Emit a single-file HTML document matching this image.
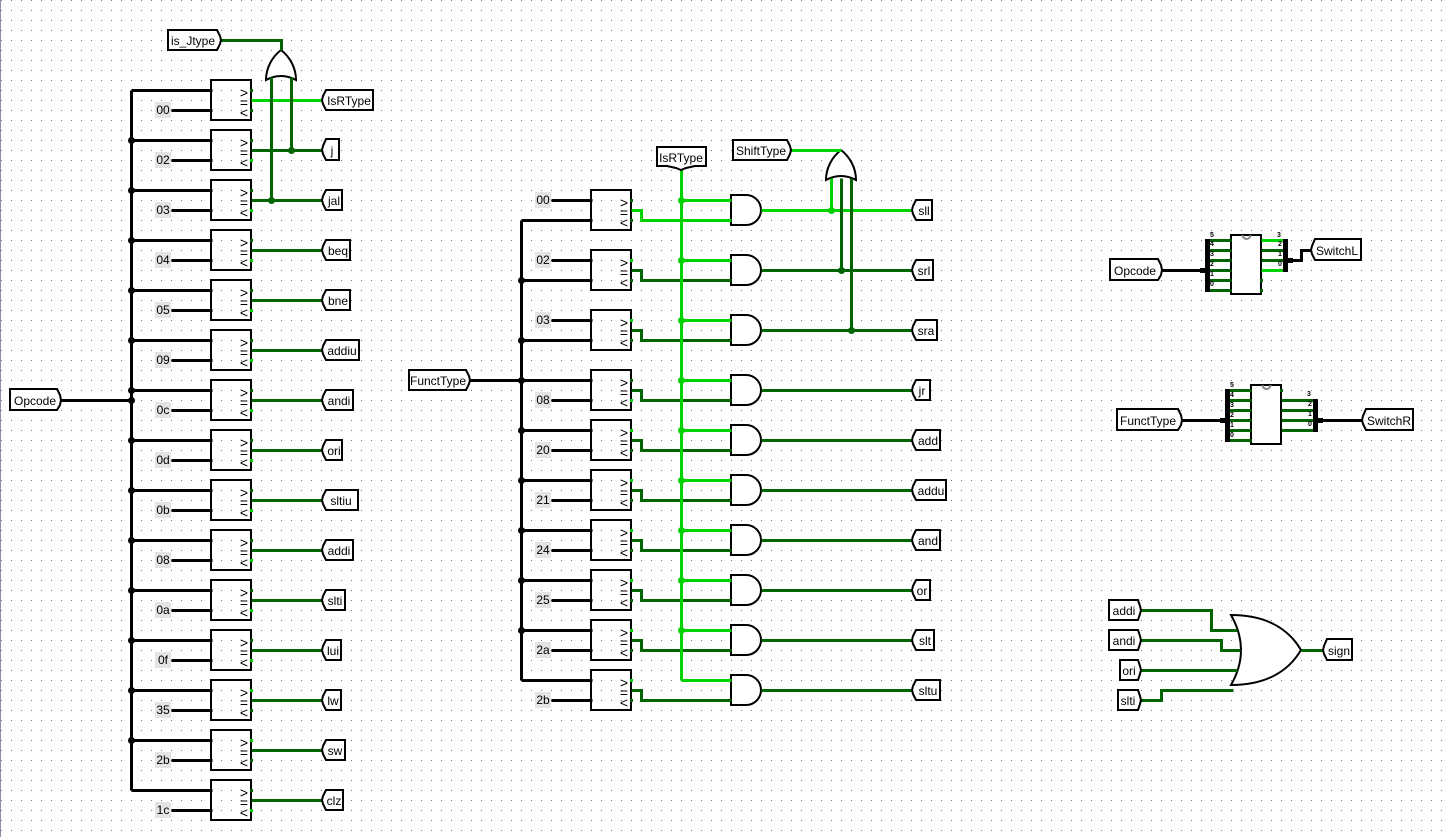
<!DOCTYPE html>
<html><head><meta charset="utf-8"><style>
html,body{margin:0;padding:0;background:#fff}
svg{display:block}
text{font-family:"Liberation Sans",sans-serif;font-size:12px;fill:#000;text-anchor:middle}
.m text{font-size:14px}
.s text{font-size:7px;font-weight:bold}
.w path{fill:none;stroke-width:3}
.k{stroke:#000}.d{stroke:#006400}.b{stroke:#00d200}
.l{fill:#fff;stroke:#000;stroke-width:2}
.g{fill:#fff;stroke:#000;stroke-width:2}
.c{fill:#e4e4e4}
</style></head><body>
<svg width="1451" height="837" viewBox="0 0 1451 837" xmlns="http://www.w3.org/2000/svg">
<defs><pattern id="p" width="10" height="10" patternUnits="userSpaceOnUse"><rect x="1" y="0" width="1" height="1" fill="#777"/></pattern></defs>
<rect width="1451" height="837" fill="#fff"/>
<rect width="1451" height="837" fill="url(#p)"/>
<rect width="1" height="837" fill="#8a94a6"/>

<!-- comparator boxes -->
<path fill="none" stroke="#000" stroke-width="2" d="M211 80h40v40h-40zM211 130h40v40h-40zM211 180h40v40h-40zM211 230h40v40h-40zM211 280h40v40h-40zM211 330h40v40h-40zM211 380h40v40h-40zM211 430h40v40h-40zM211 480h40v40h-40zM211 530h40v40h-40zM211 580h40v40h-40zM211 630h40v40h-40zM211 680h40v40h-40zM211 730h40v40h-40zM211 780h40v40h-40zM591 190h40v40h-40zM591 250h40v40h-40zM591 310h40v40h-40zM591 370h40v40h-40zM591 420h40v40h-40zM591 470h40v40h-40zM591 520h40v40h-40zM591 570h40v40h-40zM591 620h40v40h-40zM591 670h40v40h-40z"/>

<!-- comparator symbols -->
<g class="m" transform="translate(0 .7)">
<text x="244" y="97">&gt;</text><text x="244" y="107">=</text><text x="244" y="117">&lt;</text>
<text x="244" y="147">&gt;</text><text x="244" y="157">=</text><text x="244" y="167">&lt;</text>
<text x="244" y="197">&gt;</text><text x="244" y="207">=</text><text x="244" y="217">&lt;</text>
<text x="244" y="247">&gt;</text><text x="244" y="257">=</text><text x="244" y="267">&lt;</text>
<text x="244" y="297">&gt;</text><text x="244" y="307">=</text><text x="244" y="317">&lt;</text>
<text x="244" y="347">&gt;</text><text x="244" y="357">=</text><text x="244" y="367">&lt;</text>
<text x="244" y="397">&gt;</text><text x="244" y="407">=</text><text x="244" y="417">&lt;</text>
<text x="244" y="447">&gt;</text><text x="244" y="457">=</text><text x="244" y="467">&lt;</text>
<text x="244" y="497">&gt;</text><text x="244" y="507">=</text><text x="244" y="517">&lt;</text>
<text x="244" y="547">&gt;</text><text x="244" y="557">=</text><text x="244" y="567">&lt;</text>
<text x="244" y="597">&gt;</text><text x="244" y="607">=</text><text x="244" y="617">&lt;</text>
<text x="244" y="647">&gt;</text><text x="244" y="657">=</text><text x="244" y="667">&lt;</text>
<text x="244" y="697">&gt;</text><text x="244" y="707">=</text><text x="244" y="717">&lt;</text>
<text x="244" y="747">&gt;</text><text x="244" y="757">=</text><text x="244" y="767">&lt;</text>
<text x="244" y="797">&gt;</text><text x="244" y="807">=</text><text x="244" y="817">&lt;</text>
<text x="624" y="207">&gt;</text><text x="624" y="217">=</text><text x="624" y="227">&lt;</text>
<text x="624" y="267">&gt;</text><text x="624" y="277">=</text><text x="624" y="287">&lt;</text>
<text x="624" y="327">&gt;</text><text x="624" y="337">=</text><text x="624" y="347">&lt;</text>
<text x="624" y="387">&gt;</text><text x="624" y="397">=</text><text x="624" y="407">&lt;</text>
<text x="624" y="437">&gt;</text><text x="624" y="447">=</text><text x="624" y="457">&lt;</text>
<text x="624" y="487">&gt;</text><text x="624" y="497">=</text><text x="624" y="507">&lt;</text>
<text x="624" y="537">&gt;</text><text x="624" y="547">=</text><text x="624" y="557">&lt;</text>
<text x="624" y="587">&gt;</text><text x="624" y="597">=</text><text x="624" y="607">&lt;</text>
<text x="624" y="637">&gt;</text><text x="624" y="647">=</text><text x="624" y="657">&lt;</text>
<text x="624" y="687">&gt;</text><text x="624" y="697">=</text><text x="624" y="707">&lt;</text>
</g>

<!-- constants -->
<path class="c" d="M155 102h16v16h-16zM155 152h16v16h-16zM155 202h16v16h-16zM155 252h16v16h-16zM155 302h16v16h-16zM155 352h16v16h-16zM155 402h16v16h-16zM155 452h16v16h-16zM155 502h16v16h-16zM155 552h16v16h-16zM155 602h16v16h-16zM155 652h16v16h-16zM155 702h16v16h-16zM155 752h16v16h-16zM155 802h16v16h-16zM535 192h16v16h-16zM535 252h16v16h-16zM535 312h16v16h-16zM535 392h16v16h-16zM535 442h16v16h-16zM535 492h16v16h-16zM535 542h16v16h-16zM535 592h16v16h-16zM535 642h16v16h-16zM535 692h16v16h-16z"/>
<g>
<text x="163" y="114">00</text><text x="163" y="164">02</text><text x="163" y="214">03</text><text x="163" y="264">04</text><text x="163" y="314">05</text><text x="163" y="364">09</text><text x="163" y="414">0c</text><text x="163" y="464">0d</text><text x="163" y="514">0b</text><text x="163" y="564">08</text><text x="163" y="614">0a</text><text x="163" y="664">0f</text><text x="163" y="714">35</text><text x="163" y="764">2b</text><text x="163" y="814">1c</text>
<text x="543" y="204">00</text><text x="543" y="264">02</text><text x="543" y="324">03</text><text x="543" y="404">08</text><text x="543" y="454">20</text><text x="543" y="504">21</text><text x="543" y="554">24</text><text x="543" y="604">25</text><text x="543" y="654">2a</text><text x="543" y="704">2b</text>
</g>

<!-- gates -->
<path class="g" d="M281 50C272 57 266 68 266 80Q281 72 296 80C296 68 290 57 281 50Z"/>
<path class="g" d="M841 150C832 157 826 168 826 180Q841 172 856 180C856 168 850 157 841 150Z"/>
<path class="g" d="M731 195H746A15 15 0 0 1 746 225H731ZM731 255H746A15 15 0 0 1 746 285H731ZM731 315H746A15 15 0 0 1 746 345H731ZM731 375H746A15 15 0 0 1 746 405H731ZM731 425H746A15 15 0 0 1 746 455H731ZM731 475H746A15 15 0 0 1 746 505H731ZM731 525H746A15 15 0 0 1 746 555H731ZM731 575H746A15 15 0 0 1 746 605H731ZM731 625H746A15 15 0 0 1 746 655H731ZM731 675H746A15 15 0 0 1 746 705H731Z"/>
<path class="g" d="M1231 615C1265 615 1288 628 1301 650C1288 672 1265 685 1231 685Q1251 650 1231 615Z"/>

<!-- splitter boxes -->
<rect x="1231" y="235" width="30" height="59" class="g"/>
<rect x="1251" y="385" width="30" height="59" class="g"/>
<path d="M1242.5 235a4 4 0 0 0 8 0M1262.5 385a4 4 0 0 0 8 0" fill="none" stroke="#888" stroke-width="2"/>

<!-- wires -->
<g class="w" transform="translate(.5 .5)">
<path class="k" d="M61 400H131M131 90V790M131 90H212M131 140H212M131 190H212M131 240H212M131 290H212M131 340H212M131 390H212M131 440H212M131 490H212M131 540H212M131 590H212M131 640H212M131 690H212M131 740H212M131 790H212M171 110H212M171 160H212M171 210H212M171 260H212M171 310H212M171 360H212M171 410H212M171 460H212M171 510H212M171 560H212M171 610H212M171 660H212M171 710H212M171 760H212M171 810H212"/>
<path class="k" d="M470 380H521M521 220V680M521 220H592M521 280H592M521 340H592M521 380H592M521 430H592M521 480H592M521 530H592M521 580H592M521 630H592M521 680H592M551 200H592M551 260H592M551 320H592M551 400H592M551 450H592M551 500H592M551 550H592M551 600H592M551 650H592M551 700H592"/>
<path class="k" d="M1161 270H1201M1182 420H1221M1287 260H1301V250H1311M1317 420H1361"/>
<path class="b" d="M251 100H322"/>
<path class="d" d="M251 150H322M251 200H322M251 250H322M251 300H322M251 350H322M251 400H322M251 450H322M251 500H322M251 550H322M251 600H322M251 650H322M251 700H322M251 750H322M251 800H322"/>
<path class="d" d="M221 40H281V50M271 77V200M291 77V150"/>
<path class="b" d="M631 210H641V220H731M761 210H913M791 150H841M681 200H731M681 260H731M681 320H731M681 380H731M681 430H731M681 480H731M681 530H731M681 580H731M681 630H731M681 680H731"/>
<path class="d" d="M631 270H641V280H731M631 330H641V340H731M631 390H641V400H731M631 440H641V450H731M631 490H641V500H731M631 540H641V550H731M631 590H641V600H731M631 640H641V650H731M631 690H641V700H731M761 270H913M761 330H913M761 390H913M761 440H913M761 490H913M761 540H913M761 590H913M761 640H913M761 690H913"/>
<path class="b" d="M681 170V680M831 178V210"/>
<path class="d" d="M841 178V270M851 178V330"/>
<path class="d" d="M1141 610H1211V630H1237M1141 640H1221V650H1240M1141 670H1237M1141 700H1161V690H1233M1301 650H1323"/>
<path class="d" d="M1209 240H1231M1209 250H1231M1209 260H1231M1209 270H1231M1209 280H1231M1209 290H1231M1261 250H1283M1261 260H1283M1229 390H1251M1229 400H1251M1229 410H1251M1229 420H1251M1229 430H1251M1229 440H1251M1281 400H1313M1281 410H1313M1281 420H1313M1281 430H1313"/>
<path class="b" d="M1261 240H1283M1261 270H1283"/>
</g>

<!-- junctions -->
<g transform="translate(.5 .5)">
<g fill="#000"><circle cx="131" cy="140" r="3.5"/><circle cx="131" cy="190" r="3.5"/><circle cx="131" cy="240" r="3.5"/><circle cx="131" cy="290" r="3.5"/><circle cx="131" cy="340" r="3.5"/><circle cx="131" cy="390" r="3.5"/><circle cx="131" cy="400" r="3.5"/><circle cx="131" cy="440" r="3.5"/><circle cx="131" cy="490" r="3.5"/><circle cx="131" cy="540" r="3.5"/><circle cx="131" cy="590" r="3.5"/><circle cx="131" cy="640" r="3.5"/><circle cx="131" cy="690" r="3.5"/><circle cx="131" cy="740" r="3.5"/>
<circle cx="521" cy="280" r="3.5"/><circle cx="521" cy="340" r="3.5"/><circle cx="521" cy="380" r="3.5"/><circle cx="521" cy="430" r="3.5"/><circle cx="521" cy="480" r="3.5"/><circle cx="521" cy="530" r="3.5"/><circle cx="521" cy="580" r="3.5"/><circle cx="521" cy="630" r="3.5"/></g>
<g fill="#006400"><circle cx="291" cy="150" r="3.5"/><circle cx="271" cy="200" r="3.5"/><circle cx="841" cy="270" r="3.5"/><circle cx="851" cy="330" r="3.5"/></g>
<g fill="#00d200"><circle cx="681" cy="200" r="3.5"/><circle cx="681" cy="260" r="3.5"/><circle cx="681" cy="320" r="3.5"/><circle cx="681" cy="380" r="3.5"/><circle cx="681" cy="430" r="3.5"/><circle cx="681" cy="480" r="3.5"/><circle cx="681" cy="530" r="3.5"/><circle cx="681" cy="580" r="3.5"/><circle cx="681" cy="630" r="3.5"/><circle cx="831" cy="210" r="3.5"/></g>
</g>

<!-- comparator pins -->
<path fill="#006400" d="M250 89h3v3h-3zM250 109h3v3h-3zM250 139h3v3h-3zM250 189h3v3h-3zM250 239h3v3h-3zM250 289h3v3h-3zM250 339h3v3h-3zM250 389h3v3h-3zM250 439h3v3h-3zM250 489h3v3h-3zM250 539h3v3h-3zM250 589h3v3h-3zM250 639h3v3h-3zM250 709h3v3h-3zM250 759h3v3h-3zM250 789h3v3h-3zM630 199h3v3h-3zM630 219h3v3h-3zM630 279h3v3h-3zM630 339h3v3h-3zM630 379h3v3h-3zM630 449h3v3h-3zM630 499h3v3h-3zM630 549h3v3h-3zM630 599h3v3h-3zM630 649h3v3h-3zM630 699h3v3h-3zM1260 279h3v3h-3zM1260 289h3v3h-3zM1280 389h3v3h-3z"/>
<path fill="#00d200" d="M250 159h3v3h-3zM250 209h3v3h-3zM250 259h3v3h-3zM250 309h3v3h-3zM250 359h3v3h-3zM250 409h3v3h-3zM250 459h3v3h-3zM250 509h3v3h-3zM250 559h3v3h-3zM250 609h3v3h-3zM250 659h3v3h-3zM250 689h3v3h-3zM250 739h3v3h-3zM250 809h3v3h-3zM630 259h3v3h-3zM630 319h3v3h-3zM630 399h3v3h-3zM630 429h3v3h-3zM630 479h3v3h-3zM630 529h3v3h-3zM630 579h3v3h-3zM630 629h3v3h-3zM630 679h3v3h-3z"/>

<!-- splitter bars -->
<path fill="#000" d="M1205 239h5v53h-5zM1200 268h6v5h-6zM1283 239h5v33h-5zM1287 258h6v5h-6zM1225 389h5v53h-5zM1220 418h6v5h-6zM1313 399h5v33h-5zM1317 418h6v5h-6z"/>
<g class="s">
<text x="1212" y="237">5</text><text x="1212" y="246">4</text><text x="1212" y="256">3</text><text x="1212" y="266">2</text><text x="1212" y="276">1</text><text x="1212" y="286">0</text>
<text x="1279" y="237">3</text><text x="1280" y="246">2</text><text x="1280" y="256">1</text><text x="1280" y="266">0</text>
<text x="1232" y="387">5</text><text x="1232" y="397">4</text><text x="1232" y="407">3</text><text x="1232" y="417">2</text><text x="1232" y="427">1</text><text x="1232" y="437">0</text>
<text x="1309" y="396">3</text><text x="1310" y="406">2</text><text x="1310" y="416">1</text><text x="1310" y="426">0</text>
</g>

<!-- input labels (tip right) -->
<path class="l" d="M168 30H217L220 36 221 40 220 44 217 50H168Z"/><text x="193" y="45">is_Jtype</text>
<path class="l" d="M10 389H57L60 395 61 400 60 405 57 410H10Z"/><text x="35" y="405">Opcode</text>
<path class="l" d="M409 370H466L469 376 470 380 469 384 466 390H409Z"/><text x="438" y="385">FunctType</text>
<path class="l" d="M733 140H787L790 146 791 150 790 154 787 160H733Z"/><text x="761" y="155">ShiftType</text>
<path class="l" d="M1110 259H1158L1161 265 1162 270 1161 275 1158 280H1110Z"/><text x="1135" y="275">Opcode</text>
<path class="l" d="M1117 409H1178L1181 415 1182 420 1181 425 1178 430H1117Z"/><text x="1148" y="425">FunctType</text>
<path class="l" d="M1109 600H1138L1140 606 1141 610 1140 614 1138 620H1109Z"/><text x="1124" y="615">addi</text>
<path class="l" d="M1109 630H1138L1140 636 1141 640 1140 644 1138 650H1109Z"/><text x="1124" y="645">andi</text>
<path class="l" d="M1120 660H1138L1140 666 1141 670 1140 674 1138 680H1120Z"/><text x="1129" y="675">ori</text>
<path class="l" d="M1118 690H1138L1140 696 1141 700 1140 704 1138 710H1118Z"/><text x="1128" y="705">slti</text>

<!-- IsRType down -->
<path class="l" d="M657 147H706V166H695L686 168 681 170 676 168 667 166H657Z"/><text x="681" y="162">IsRType</text>

<!-- output labels (tip left) -->
<path class="l" d="M322 100L323 96 326 90H373V110H326L323 104Z"/><text x="349" y="105">IsRType</text>
<path class="l" d="M322 150L323 146 326 139H339V160H326L323 154Z"/><text x="332" y="155">j</text>
<path class="l" d="M322 200L323 196 326 190H342V210H326L323 204Z"/><text x="334" y="205">jal</text>
<path class="l" d="M322 250L323 246 326 240H350V260H326L323 254Z"/><text x="338" y="255">beq</text>
<path class="l" d="M322 300L323 296 326 290H350V310H326L323 304Z"/><text x="338" y="305">bne</text>
<path class="l" d="M322 350L323 346 326 340H359V360H326L323 354Z"/><text x="342" y="355">addiu</text>
<path class="l" d="M322 400L323 396 326 390H353V410H326L323 404Z"/><text x="339" y="405">andi</text>
<path class="l" d="M322 450L323 446 326 440H342V460H326L323 454Z"/><text x="334" y="455">ori</text>
<path class="l" d="M322 500L323 496 326 490H358V510H326L323 504Z"/><text x="341" y="505">sltiu</text>
<path class="l" d="M322 550L323 546 326 540H353V560H326L323 554Z"/><text x="339" y="555">addi</text>
<path class="l" d="M322 600L323 596 326 590H345V610H326L323 604Z"/><text x="335" y="605">slti</text>
<path class="l" d="M322 650L323 646 326 640H341V660H326L323 654Z"/><text x="333" y="655">lui</text>
<path class="l" d="M322 700L323 696 326 690H341V710H326L323 704Z"/><text x="333" y="705">lw</text>
<path class="l" d="M322 750L323 746 326 740H345V760H326L323 754Z"/><text x="335" y="755">sw</text>
<path class="l" d="M322 800L323 796 326 790H343V810H326L323 804Z"/><text x="334" y="805">clz</text>

<path class="l" d="M912 210L913 206 916 200H932V220H916L913 214Z"/><text x="924" y="215">sll</text>
<path class="l" d="M912 270L913 266 916 260H933V280H916L913 274Z"/><text x="924" y="275">srl</text>
<path class="l" d="M912 330L913 326 916 320H937V340H916L913 334Z"/><text x="926" y="335">sra</text>
<path class="l" d="M912 390L913 386 916 380H930V400H916L913 394Z"/><text x="922" y="395">jr</text>
<path class="l" d="M912 440L913 436 916 430H940V450H916L913 444Z"/><text x="928" y="445">add</text>
<path class="l" d="M912 490L913 486 916 480H946V500H916L913 494Z"/><text x="931" y="495">addu</text>
<path class="l" d="M912 540L913 536 916 530H940V550H916L913 544Z"/><text x="928" y="545">and</text>
<path class="l" d="M912 590L913 586 916 580H930V600H916L913 594Z"/><text x="922" y="595">or</text>
<path class="l" d="M912 640L913 636 916 630H934V650H916L913 644Z"/><text x="925" y="645">slt</text>
<path class="l" d="M912 690L913 686 916 680H940V700H916L913 694Z"/><text x="928" y="695">sltu</text>

<path class="l" d="M1311 250L1312 246 1315 239H1361V260H1315L1312 254Z"/><text x="1337" y="255">SwitchL</text>
<path class="l" d="M1362 420L1363 416 1366 409H1413V430H1366L1363 424Z"/><text x="1389" y="425">SwitchR</text>
<path class="l" d="M1323 650L1324 646 1327 639H1352V660H1327L1324 654Z"/><text x="1339" y="655">sign</text>
</svg>
</body></html>
